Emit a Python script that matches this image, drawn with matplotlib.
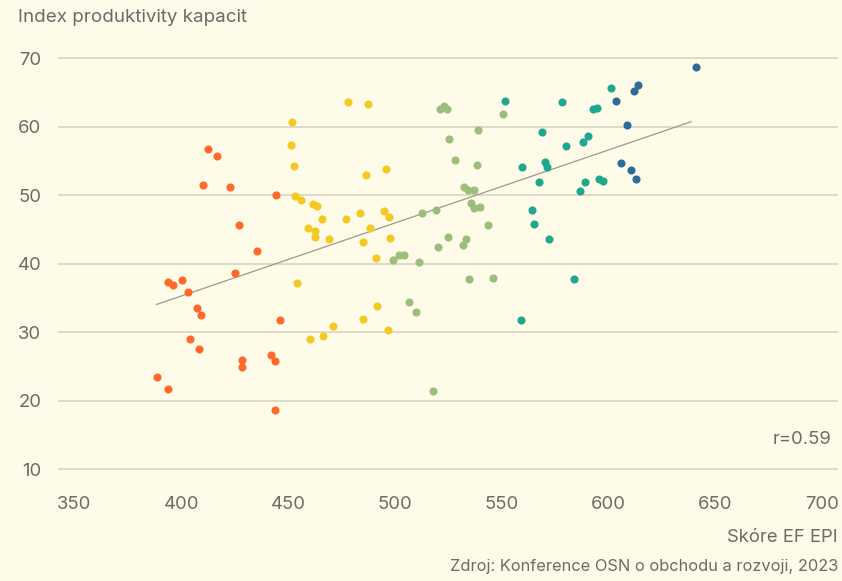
import numpy as np
import matplotlib
matplotlib.use("Agg")
import matplotlib.pyplot as plt

# EF EPI score (x) vs. productive capacities index (y), grouped by proficiency band
orange_x = [412.4, 416.6, 410.4, 422.7, 444.6, 427.1, 435.7, 425.2, 394.0, 396.0, 400.2, 403.2,
            407.5, 409.3, 446.2, 404.3, 408.3, 428.4, 428.4, 441.9, 443.8, 388.5, 394.0, 443.8]
orange_y = [56.85, 55.8, 51.5, 51.2, 50.0, 45.7, 41.9, 38.7, 37.3, 36.95, 37.6, 35.9,
            33.5, 32.6, 31.8, 29.1, 27.5, 25.9, 25.0, 26.7, 25.8, 23.5, 21.8, 18.6]

yellow_x = [452.1, 451.3, 453.0, 453.3, 456.3, 461.6, 463.8, 466.0, 459.6, 462.8, 462.8, 469.1,
            454.3, 471.0, 466.4, 460.4, 478.3, 487.7, 486.6, 496.1, 477.2, 483.6, 494.9, 497.4,
            488.6, 485.1, 498.0, 491.1, 491.8, 485.3, 497.0]
yellow_y = [60.7, 57.4, 54.3, 49.9, 49.4, 48.8, 48.4, 46.6, 45.3, 44.75, 43.9, 43.7,
            37.2, 30.9, 29.45, 29.0, 63.6, 63.4, 53.0, 53.9, 46.5, 47.4, 47.7, 46.8,
            45.25, 43.25, 43.8, 40.9, 33.8, 31.9, 30.4]

green_x = [521.3, 523.3, 524.4, 550.8, 539.1, 525.4, 528.4, 538.8, 532.7, 534.3, 537.2, 535.7,
           537.3, 540.0, 512.7, 519.3, 543.9, 525.2, 533.6, 531.9, 520.2, 499.3, 502.1, 504.3,
           511.6, 534.9, 546.1, 506.6, 509.9, 518.1]
green_y = [62.6, 63.1, 62.6, 61.9, 59.6, 58.3, 55.2, 54.4, 51.3, 50.8, 50.8, 48.9,
           48.2, 48.25, 47.5, 47.8, 45.7, 44.0, 43.6, 42.7, 42.4, 40.6, 41.3, 41.3,
           40.3, 37.75, 38.0, 34.4, 33.0, 21.4]

teal_x = [551.6, 559.8, 559.2, 578.4, 601.4, 593.1, 595.0, 569.1, 590.8, 588.1, 580.5, 570.5,
          571.4, 567.8, 589.2, 586.9, 595.9, 597.5, 564.2, 565.3, 572.5, 583.9]
teal_y = [63.8, 54.2, 31.8, 63.7, 65.75, 62.6, 62.8, 59.3, 58.75, 57.8, 57.2, 54.9,
          54.2, 51.9, 51.95, 50.7, 52.4, 52.1, 47.9, 45.8, 43.7, 37.75]

blue_x = [641.4, 613.9, 611.9, 603.7, 608.9, 605.9, 610.8, 613.0]
blue_y = [68.7, 66.2, 65.2, 63.85, 60.35, 54.8, 53.7, 52.4]

x_ticks = [350, 400, 450, 500, 550, 600, 650, 700]
y_ticks = [10, 20, 30, 40, 50, 60, 70]

bg = "#fefce8"
txt = "#6b6b68"
plt.rcParams['font.family'] = ['Inter', 'DejaVu Sans']

fig = plt.figure(figsize=(8.42, 5.81), dpi=100, facecolor=bg)
ax = fig.add_axes([58 / 842, 1 - 476.15 / 581, 780 / 842, (476.15 - 51.65) / 581])
ax.set_facecolor(bg)

groups = [
    (orange_x, orange_y, "#ff6a2c"),
    (yellow_x, yellow_y, "#f3c922"),
    (green_x, green_y, "#9dbd7c"),
    (teal_x, teal_y, "#1fa88f"),
    (blue_x, blue_y, "#2e6b98"),
]
for gx, gy, c in groups:
    ax.scatter(gx, gy, s=34, color=c, linewidths=0, zorder=3)

# trend line fitted on all points
all_x = np.concatenate([g[0] for g in groups])
all_y = np.concatenate([g[1] for g in groups])
k, q = np.polyfit(all_x, all_y, 1)
lx = np.array([all_x.min(), all_x.max() - 2.5])
ax.plot(lx, k * lx + q, color="#9a9a8e", lw=0.9, zorder=2)

ax.set_xlim(342.3, 707.7)
ax.set_ylim(9, 71)
ax.set_xticks(x_ticks)
ax.set_yticks(y_ticks)
ax.grid(axis="y", color="#d4d1bd", lw=1.1)
ax.set_axisbelow(True)
for s in ax.spines.values():
    s.set_visible(False)
ax.tick_params(length=0, labelsize=13.3, labelcolor=txt)
ax.tick_params(axis="x", pad=14)
ax.tick_params(axis="y", pad=12)

fig.text(18 / 842, 1 - 17 / 581, "Index produktivity kapacit", fontsize=13.5, color=txt,
         ha="left", va="center")
fig.text(832 / 842, 1 - 440 / 581, "r=0.59", fontsize=13.3, color=txt, ha="right", va="center")
fig.text(838 / 842, 1 - 538 / 581, "Skóre EF EPI", fontsize=13.3, color=txt, ha="right", va="center")
fig.text(838 / 842, 1 - 567 / 581, "Zdroj: Konference OSN o obchodu a rozvoji, 2023",
         fontsize=11.8, color=txt, ha="right", va="center")

fig.savefig("out.png", dpi=100, facecolor=bg)
